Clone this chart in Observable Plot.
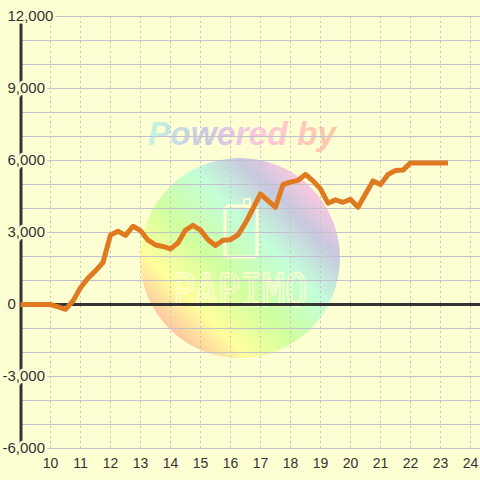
<!DOCTYPE html>
<html>
<head>
<meta charset="utf-8">
<script src="https://cdn.jsdelivr.net/npm/d3@7"></script>
<script src="https://cdn.jsdelivr.net/npm/@observablehq/plot@0.6"></script>
<style>
  html, body { margin: 0; padding: 0; background: #ffffd4; }
  #chart { width: 480px; height: 480px; }
</style>
</head>
<body>
<div id="chart"></div>
<script>
// Time of day (hours) and cumulative value
const hours = [9, 9.25, 9.5, 9.75, 10, 10.25, 10.5, 10.75, 11, 11.25, 11.5, 11.75,
  12, 12.25, 12.5, 12.75, 13, 13.25, 13.5, 13.75, 14, 14.25, 14.5, 14.75,
  15, 15.25, 15.5, 15.75, 16, 16.25, 16.5, 16.75, 17, 17.25, 17.5, 17.75,
  18, 18.25, 18.5, 18.75, 19, 19.25, 19.5, 19.75, 20, 20.25, 20.5, 20.75,
  21, 21.25, 21.5, 21.75, 22, 22.25, 22.5, 22.75, 23, 23.25];
const values = [0, 0, 0, 0, 0, -100, -200, 150, 700, 1100, 1400, 1750,
  2900, 3050, 2880, 3260, 3080, 2680, 2480, 2420, 2320, 2560, 3100, 3300,
  3100, 2700, 2460, 2680, 2700, 2900, 3400, 4000, 4610, 4330, 4050, 5000,
  5100, 5170, 5420, 5150, 4820, 4220, 4360, 4260, 4380, 4050, 4600, 5150,
  5000, 5420, 5580, 5600, 5900, 5900, 5900, 5900, 5900, 5900];
const xTicks = [10, 11, 12, 13, 14, 15, 16, 17, 18, 19, 20, 21, 22, 23, 24];
const yTicks = [-6000, -3000, 0, 3000, 6000, 9000, 12000];
const yGrid = d3.range(-6000, 12001, 1000);

const data = hours.map((h, i) => ({h, v: values[i]}));
const bg = "#ffffd4";
const fmt = d => (d < 0 ? "-" : "") + d3.format(",")(Math.abs(d));

const chart = Plot.plot({
  width: 480,
  height: 480,
  marginLeft: 20,
  marginRight: 0,
  marginTop: 16,
  marginBottom: 32,
  x: {domain: [9, 24 + 1/3], axis: null},
  y: {domain: [-6000, 12000], axis: null},
  style: {background: "transparent", fontFamily: "'Liberation Sans', Arial, sans-serif"},
  marks: [
    Plot.ruleY(yGrid, {stroke: "#c2c2cc", strokeWidth: 1}),
    Plot.ruleX(xTicks, {y1: -6000, y2: 12000, stroke: "#c4c4c4", strokeDasharray: "2,3"}),
    Plot.ruleY([0], {stroke: "#333333", strokeWidth: 3}),
    Plot.ruleX([9], {y1: -6000, y2: 12000, stroke: "#333333", strokeWidth: 3, dx: 0.5}),
    Plot.line(data, {x: "h", y: "v", stroke: "#e07a20", strokeWidth: 5, strokeLinejoin: "round", strokeLinecap: "butt"}),
    Plot.text(yTicks.filter(d => d >= 0), {x: 9, y: d => d, text: fmt, textAnchor: "start", dx: -13,
      fontSize: 15, fill: "#333333", stroke: bg, strokeWidth: 5}),
    Plot.text(yTicks.filter(d => d < 0), {x: 9, y: d => d, text: fmt, textAnchor: "start", dx: -18,
      fontSize: 15, fill: "#333333", stroke: bg, strokeWidth: 5}),
    Plot.text(xTicks, {x: d => d, y: -6000, text: d => String(d), dy: 15, fontSize: 14, fill: "#333333"})
  ]
});

// decorative watermark behind the chart
const ns = "http://www.w3.org/2000/svg";
const wm = document.createElementNS(ns, "g");
wm.setAttribute("text-anchor", "start");
wm.innerHTML = `
  <defs>
    <linearGradient id="wmCircle" x1="0" y1="1" x2="1" y2="0">
      <stop offset="0" stop-color="#ffc0a8"/>
      <stop offset="0.15" stop-color="#ffc8a0"/>
      <stop offset="0.27" stop-color="#ffff9c"/>
      <stop offset="0.43" stop-color="#d0ffa0"/>
      <stop offset="0.6" stop-color="#c4ffd8"/>
      <stop offset="0.75" stop-color="#c8c8e0"/>
      <stop offset="0.86" stop-color="#ffc8de"/>
      <stop offset="1" stop-color="#ffd0d8"/>
    </linearGradient>
    <linearGradient id="wmText" x1="0" y1="0" x2="1" y2="0">
      <stop offset="0" stop-color="#c4f6e0"/>
      <stop offset="0.3" stop-color="#ccc8e4"/>
      <stop offset="0.6" stop-color="#ffc8dc"/>
      <stop offset="1" stop-color="#ffc8a0"/>
    </linearGradient>
  </defs>
  <circle cx="240" cy="258" r="100" fill="url(#wmCircle)"/>
  <text x="148" y="145" text-anchor="start" font-family="'Liberation Sans', Arial, sans-serif" font-size="33" font-weight="bold" font-style="italic" fill="url(#wmText)" textLength="188" lengthAdjust="spacingAndGlyphs">Powered by</text>
  <rect x="225" y="206" width="32" height="51" rx="4" fill="none" stroke="#ffffd2" stroke-width="3"/>
  <rect x="244" y="199" width="6" height="8" rx="1" fill="none" stroke="#ffffd2" stroke-width="2"/>
  <text x="173" y="306" text-anchor="start" font-family="'DejaVu Sans Mono', monospace" font-size="44" fill="none" stroke="#ffffd2" stroke-width="1.6" textLength="134" lengthAdjust="spacingAndGlyphs">PAPIMO</text>
`;
chart.insertBefore(wm, chart.firstChild.nextSibling);
document.getElementById("chart").appendChild(chart);
</script>
</body>
</html>
